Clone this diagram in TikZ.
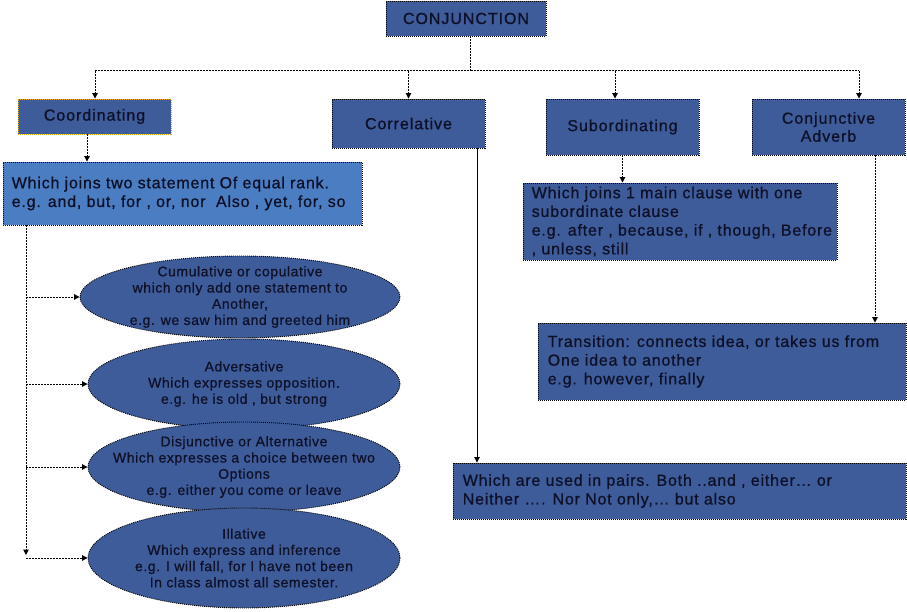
\documentclass[tikz,border=0pt]{standalone}
\usepackage{fontspec}
\setmainfont{Liberation Sans}
\newfontfamily\titlefont[LetterSpace=6,FakeBold=0.8]{Liberation Sans}
\newfontfamily\bodyfont[LetterSpace=5,FakeBold=0.8]{Liberation Sans}
\newfontfamily\ellfont[LetterSpace=4,FakeBold=0.6]{Liberation Sans}
\usetikzlibrary{shapes.geometric,arrows.meta}
\definecolor{boxdark}{HTML}{3E5C99}
\definecolor{boxlight}{HTML}{4A7DC2}
\definecolor{ink}{HTML}{0E1028}
\definecolor{gold}{HTML}{F0A800}
\begin{document}
\begin{tikzpicture}[x=1pt,y=-1pt,
  boxd/.style={draw=black, line width=0.9pt, dash pattern=on 1pt off 1pt, fill=boxdark, inner sep=0pt},
  boxl/.style={boxd, fill=boxlight},
  ell/.style={ellipse, draw=black, line width=0.9pt, dash pattern=on 1pt off 1pt, fill=boxdark, inner sep=0pt},
  ttext/.style={text=ink, font=\titlefont\fontsize{16}{18}\selectfont, align=center},
  btext/.style={text=ink, font=\bodyfont\fontsize{16}{18.7}\selectfont, align=left, inner sep=0pt, anchor=west},
  etext/.style={text=ink, font=\ellfont\fontsize{14}{16.2}\selectfont, align=center, inner sep=0pt},
  conn/.style={draw=black, line width=1pt, dash pattern=on 2pt off 1pt},
  tip/.style={-{Triangle[length=5.5pt,width=5.5pt]}},
  solidconn/.style={draw=black, line width=0.9pt}
]
\useasboundingbox (0,0) rectangle (907,612);

% top-level boxes
\node[boxd, minimum width=160pt, minimum height=35pt] (conj) at (466,18.5) {};
\node[ttext] (conjt) at (conj.center) {CONJUNCTION};

\node[boxd, draw=gold, minimum width=153pt, minimum height=35pt] (coord) at (94.5,116.5) {};
\node[ttext] (coordt) at (coord.center) {Coordinating};

\node[boxd, minimum width=153pt, minimum height=49pt] (correl) at (408.5,123.5) {};
\node[ttext] (correlt) at (correl.center) {Correlative};

\node[boxd, minimum width=153pt, minimum height=56pt] (subord) at (622.5,127) {};
\node[ttext] (subordt) at (subord.center) {Subordinating};

\node[boxd, minimum width=153pt, minimum height=56pt] (conjadv) at (828.5,127) {};
\node[ttext] (conjadvt) at (conjadv.center) {Conjunctive\\Adverb};

% description boxes
\node[boxl, minimum width=359pt, minimum height=63pt] (wj) at (182.5,193.5) {};
\node[btext] (wjt) at ([xshift=9pt]wj.west) {Which joins two statement Of equal rank.\\e.g. and, but, for , or, nor\ \ Also , yet, for, so};

\node[boxd, minimum width=314pt, minimum height=77pt] (sb) at (680,221.5) {};
\node[btext] (sbt) at ([xshift=9pt]sb.west) {Which joins 1 main clause with one\\subordinate clause\\e.g. after , because, if , though, Before\\, unless, still};

\node[boxd, minimum width=368pt, minimum height=77pt] (tr) at (722,361.5) {};
\node[btext] (trt) at ([xshift=10pt]tr.west) {Transition: connects idea, or takes us from\\One idea to another\\e.g. however, finally};

\node[boxd, minimum width=453pt, minimum height=56pt] (pr) at (679.5,491) {};
\node[btext] (prt) at ([xshift=10pt]pr.west) {Which are used in pairs. Both ..and , either\dots\ or\\Neither \dots. Nor Not only,\dots\ but also};

% ellipses
\node[ell, minimum width=320pt, minimum height=82pt] (e1) at (240,297) {};
\node[etext] (e1t) at (e1.center) {Cumulative or copulative\\which only add one statement to\\Another,\\e.g. we saw him and greeted him};

\node[ell, minimum width=312pt, minimum height=90pt] (e2) at (244,384) {};
\node[etext] (e2t) at (e2.center) {Adversative\\Which expresses opposition.\\e.g. he is old , but strong};

\node[ell, minimum width=312pt, minimum height=90pt] (e3) at (244,467) {};
\node[etext] (e3t) at (e3.center) {Disjunctive or Alternative\\Which expresses a choice between two\\Options\\e.g. either you come or leave};

\node[ell, minimum width=312pt, minimum height=100pt] (e4) at (244,558) {};
\node[etext] (e4t) at (e4.center) {Illative\\Which express and inference\\e.g. I will fall, for I have not been\\In class almost all semester.};

% bus
\coordinate (busL) at (95,71);
\coordinate (busR) at (859,71);
\coordinate (busS) at (615,71);
\draw[conn] ([xshift=4pt]conj.south) |- (busL);
\draw[conn] ([xshift=4pt]conj.south) |- (busR);
\draw[conn,tip] (busL) -- (busL |- coord.north);
\draw[conn,tip] (busL -| correl.north) -- (correl.north);
\draw[conn,tip] (busS) -- (busS |- subord.north);
\draw[conn,tip] (busR) -- (busR |- conjadv.north);

% second level
\coordinate (cx) at (87,0);
\draw[conn,tip] (cx |- coord.south) -- (cx |- wj.north);
\draw[conn,tip] (subord.south) -- (sb.north -| subord.south);
\coordinate (ax) at (875,0);
\draw[conn,tip] (ax |- conjadv.south) -- (ax |- tr.north);
\coordinate (rx) at (477,0);
\draw[solidconn,tip] (rx |- correl.south) -- (rx |- pr.north);

% left spine
\coordinate (lb) at (26,555);
\draw[conn,tip] (lb |- wj.south) -- (lb);
\draw[conn,tip] (lb |- e1.west) -- (e1.west);
\draw[conn,tip] (lb |- e2.west) -- (e2.west);
\draw[conn,tip] (lb |- e3.west) -- (e3.west);
\draw[conn,tip] (lb |- e4.west) -- (e4.west);
\end{tikzpicture}
\end{document}
